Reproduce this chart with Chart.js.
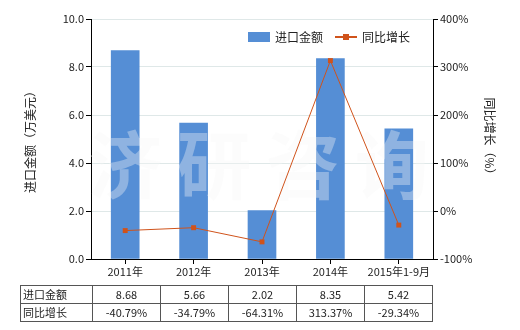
<!DOCTYPE html>
<html>
<head>
<meta charset="utf-8">
<script src="https://cdn.jsdelivr.net/npm/chart.js@4"></script>
<style>
    body { margin: 0; background: #fff; font-family: "Noto Sans CJK SC", sans-serif; }
    #wrap { position: relative; width: 520px; height: 330px; }
    #data-table { position: absolute; left: 20px; top: 285px; border-collapse: collapse; font-size: 11px; color: #222; }
    #data-table td { border: 1px solid #555; height: 16px; padding: 0; text-align: center; width: 67px; line-height: 17px; }
    #data-table td.head { text-align: left; width: 69px; padding-left: 2px; }
</style>
</head>
<body>
<div id="wrap">
    <canvas id="chart" width="520" height="330"></canvas>
    <table id="data-table"></table>
</div>
<script>
// ================================================================
// DATA
// ================================================================
const categories  = ['2011年', '2012年', '2013年', '2014年', '2015年1-9月'];
const importValue = [8.68, 5.66, 2.02, 8.35, 5.42];
const yoyGrowth   = [-40.79, -34.79, -64.31, 313.37, -29.34];
const seriesNames = ['进口金额', '同比增长'];
const leftTitle   = '进口金额（万美元）';
const rightTitle  = '同比增长（%）';
const watermark   = ['济', '研', '咨', '询'];

const BAR_COLOR  = '#558ED5';
const LINE_COLOR = '#D0531B';
const FONT       = '"Noto Sans CJK SC", sans-serif';

// ================================================================
// TABELL
// ================================================================
const table = document.getElementById('data-table');
table.innerHTML =
    `<tr><td class="head">${seriesNames[0]}</td>${importValue.map(v => `<td>${v.toFixed(2)}</td>`).join('')}</tr>` +
    `<tr><td class="head">${seriesNames[1]}</td>${yoyGrowth.map(v => `<td>${v.toFixed(2)}%</td>`).join('')}</tr>`;

// ================================================================
// PLUGINS
// ================================================================
const watermarkPlugin = {
    id: 'watermark',
    afterDatasetDraw(chart, args) {
        if (args.index !== 1) return; // staplarna
        const { ctx, chartArea } = chart;
        ctx.save();
        ctx.font = `bold 74px ${FONT}`;
        ctx.fillStyle = 'rgba(248,248,246,0.36)';
        ctx.textAlign = 'center';
        ctx.textBaseline = 'middle';
        const w = chartArea.right - chartArea.left;
        watermark.forEach((ch, i) => {
            ctx.fillText(ch, chartArea.left + w * (0.10 + i * 0.26), 165);
        });
        ctx.restore();
    }
};

const legendPlugin = {
    id: 'customLegend',
    afterDraw(chart) {
        const { ctx } = chart;
        ctx.save();
        ctx.font = `12px ${FONT}`;
        ctx.textBaseline = 'middle';
        ctx.fillStyle = BAR_COLOR;
        ctx.fillRect(248, 32, 22, 10);
        ctx.fillStyle = '#222';
        ctx.fillText(seriesNames[0], 275, 37);
        ctx.strokeStyle = LINE_COLOR; ctx.lineWidth = 2;
        ctx.beginPath(); ctx.moveTo(335, 37); ctx.lineTo(357, 37); ctx.stroke();
        ctx.fillStyle = LINE_COLOR;
        ctx.fillRect(343, 34, 6, 6);
        ctx.fillStyle = '#222';
        ctx.fillText(seriesNames[1], 362, 37);
        ctx.restore();
    }
};

// ================================================================
// DIAGRAM
// ================================================================
Chart.defaults.font.family = FONT;
Chart.defaults.font.size   = 11;
Chart.defaults.color       = '#222';

new Chart(document.getElementById('chart'), {
    type: 'bar',
    data: {
        labels: categories,
        datasets: [
            { type: 'line', label: seriesNames[1], data: yoyGrowth, yAxisID: 'y1', order: 1,
              borderColor: LINE_COLOR, borderWidth: 1, backgroundColor: LINE_COLOR,
              pointStyle: 'rect', pointRadius: 3.5, pointBorderWidth: 0, tension: 0 },
            { type: 'bar', label: seriesNames[0], data: importValue, yAxisID: 'y', order: 2,
              backgroundColor: BAR_COLOR, barThickness: 28 }
        ]
    },
    plugins: [watermarkPlugin, legendPlugin],
    options: {
        responsive: false,
        animation: false,
        layout: { padding: { top: 19, left: 0, right: 0, bottom: 0 } },
        plugins: { legend: { display: false }, tooltip: { enabled: false } },
        scales: {
            x: {
                grid: { display: true, drawOnChartArea: false, offset: false, tickLength: 5, color: '#000' },
                border: { color: '#000' },
                ticks: { padding: 1, maxRotation: 0 },
                afterFit(s) { s.height = 71; }
            },
            y: {
                position: 'left', min: 0, max: 10,
                ticks: { stepSize: 2, padding: 2, callback: v => v.toFixed(1) },
                grid: { color: '#dfe8e8', tickColor: '#000', tickLength: 5 },
                border: { color: '#000' },
                title: { display: true, text: leftTitle, font: { size: 12 }, padding: { top: 23, bottom: 0 } },
                afterFit(s) { s.width = 91; }
            },
            y1: {
                position: 'right', min: -100, max: 400,
                ticks: { stepSize: 100, padding: 2, callback: v => v + '%' },
                grid: { drawOnChartArea: false, tickColor: '#000', tickLength: 5 },
                border: { color: '#000' },
                title: { display: true, text: rightTitle, font: { size: 12 }, padding: { top: 23, bottom: 0 } },
                afterFit(s) { s.width = 87; }
            }
        }
    }
});
</script>
</body>
</html>
